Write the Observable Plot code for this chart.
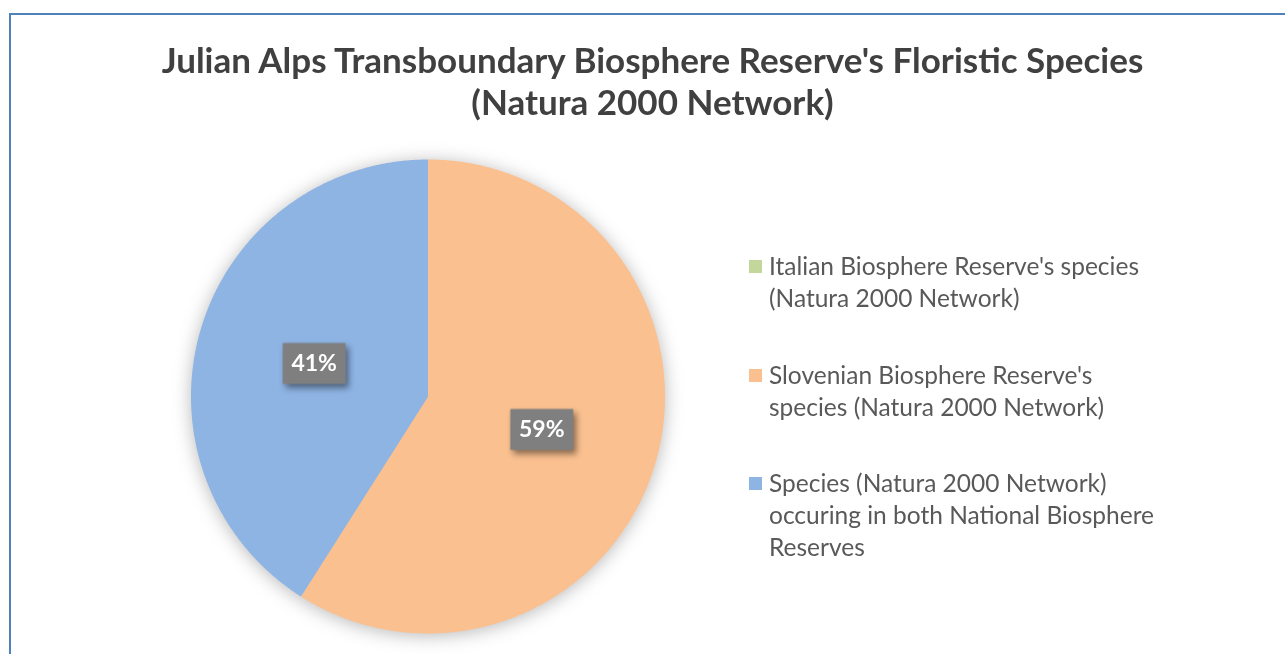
<!DOCTYPE html>
<html>
<head>
<meta charset="utf-8">
<script src="https://cdn.jsdelivr.net/npm/d3@7"></script>
<script src="https://cdn.jsdelivr.net/npm/@observablehq/plot@0.6"></script>
<style>
  html, body { margin: 0; padding: 0; background: #ffffff; }
  #wrap { position: relative; width: 1285px; height: 654px; overflow: hidden; font-family: Lato, "Open Sans", sans-serif; }
  #chart { position: absolute; left: 0; top: 0; }
  #frame { position: absolute; left: 9px; top: 13px; width: 1400px; height: 800px; border-left: 2px solid #4f81bd; border-top: 2px solid #4f81bd; pointer-events: none; }
  #title { position: absolute; left: 10px; width: 1285px; top: 38px; text-align: center; font-weight: 700; font-size: 35px; line-height: 42px; color: #404040; }
  .leg { position: absolute; left: 769px; font-size: 24.5px; line-height: 32px; color: #595959; white-space: nowrap; }
  .sw { position: absolute; left: 749px; width: 13px; height: 13px; }
</style>
</head>
<body>
<div id="wrap">
  <div id="chart"></div>
  <div id="frame"></div>
  <div id="title"></div>
  <div id="legend"></div>
</div>
<script>
// ---- data ----
const categories = [
  "Italian Biosphere Reserve's species (Natura 2000 Network)",
  "Slovenian Biosphere Reserve's species (Natura 2000 Network)",
  "Species (Natura 2000 Network) occuring in both National Biosphere Reserves"
];
const legendLines = [
  ["Italian Biosphere Reserve's species", "(Natura 2000 Network)"],
  ["Slovenian Biosphere Reserve's", "species (Natura 2000 Network)"],
  ["Species (Natura 2000 Network)", "occuring in both National Biosphere", "Reserves"]
];
const values = [0, 59, 41];
const colors = ["#c3d69b", "#fac090", "#8eb4e3"];
const titleLines = ["Julian Alps Transboundary Biosphere Reserve's Floristic Species", "(Natura 2000 Network)"];

// ---- title ----
document.getElementById("title").innerHTML = titleLines.map(t => `<div>${t}</div>`).join("");

// ---- legend ----
const legTops = [250, 358.5, 467];
const legend = document.getElementById("legend");
categories.forEach((c, i) => {
  const sw = document.createElement("div");
  sw.className = "sw";
  sw.style.top = (legTops[i] + 10) + "px";
  sw.style.background = colors[i];
  legend.appendChild(sw);
  const t = document.createElement("div");
  t.className = "leg";
  t.style.top = legTops[i] + "px";
  t.innerHTML = legendLines[i].join("<br>");
  legend.appendChild(t);
});

// ---- pie geometry from data ----
const arcs = d3.pie().sort(null).value(d => d)(values);
const total = d3.sum(values);
const slicePts = [];
const labelData = [];
arcs.forEach((a, i) => {
  const span = a.endAngle - a.startAngle;
  if (span <= 0) return;
  slicePts.push({cat: categories[i], x: 0, y: 0});
  const n = Math.max(2, Math.ceil(span / (Math.PI / 360)));
  for (let k = 0; k <= n; k++) {
    const t = a.startAngle + span * k / n;
    slicePts.push({cat: categories[i], x: Math.sin(t), y: Math.cos(t)});
  }
  const m = (a.startAngle + a.endAngle) / 2;
  labelData.push({cat: categories[i], x: 0.5 * Math.sin(m), y: 0.5 * Math.cos(m), text: d3.format(".0%")(values[i] / total)});
});

const boxSymbol = { draw(ctx) { ctx.rect(-31.5, -20.5, 63, 41); } };

const plot = Plot.plot({
  width: 1285,
  height: 654,
  margin: 0,
  style: { fontFamily: "Lato, 'Open Sans', sans-serif", background: "transparent" },
  x: { domain: [-1, 1], range: [190.5, 664.5], axis: null },
  y: { domain: [-1, 1], range: [633, 159], axis: null },
  color: { domain: categories, range: colors },
  marks: [
    Plot.line(slicePts, { x: "x", y: "y", z: "cat", fill: "cat", stroke: "none", curve: "linear-closed" }),
    Plot.dot(labelData, { x: "x", y: "y", symbol: boxSymbol, fill: "#7f7f7f", stroke: "none" }),
    Plot.text(labelData, { x: "x", y: "y", text: "text", fill: "white", fontWeight: "bold", fontSize: 23 })
  ]
});
document.getElementById("chart").appendChild(plot);
d3.select(plot).select('g[aria-label="line"]').style("filter", "drop-shadow(0px 2px 9px rgba(0,0,0,0.28))");
d3.select(plot).select('g[aria-label="dot"]').style("filter", "drop-shadow(3px 4px 3px rgba(0,0,0,0.45))");
</script>
</body>
</html>
